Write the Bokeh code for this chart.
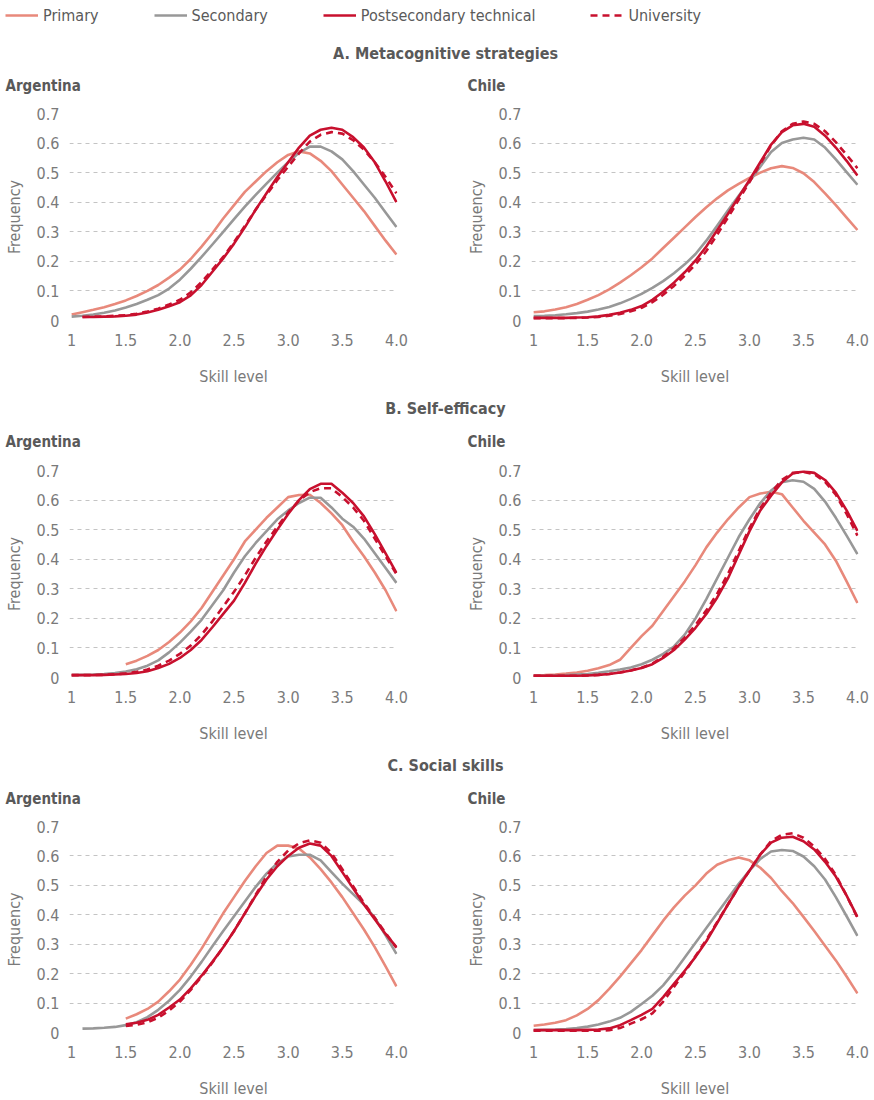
from bokeh.plotting import figure
from bokeh.layouts import column, row
from bokeh.models import Range1d, Legend, LegendItem, FixedTicker, Label
from bokeh.embed import file_html
from bokeh.resources import INLINE

# ---------------- data ----------------
skill_levels = [1.0, 1.1, 1.2, 1.3, 1.4, 1.5, 1.6, 1.7, 1.8, 1.9, 2.0, 2.1, 2.2, 2.3, 2.4, 2.5,
                2.6, 2.7, 2.8, 2.9, 3.0, 3.1, 3.2, 3.3, 3.4, 3.5, 3.6, 3.7, 3.8, 3.9, 4.0]

series_names = ["Primary", "Secondary", "Postsecondary technical", "University"]
section_titles = ["A. Metacognitive strategies", "B. Self-efficacy", "C. Social skills"]
countries = ["Argentina", "Chile"]
x_tick_values = [1, 1.5, 2, 2.5, 3, 3.5, 4]
x_tick_labels = ["1", "1.5", "2.0", "2.5", "3.0", "3.5", "4.0"]
y_tick_values = [0, 0.1, 0.2, 0.3, 0.4, 0.5, 0.6, 0.7]
y_tick_labels = ["0", "0.1", "0.2", "0.3", "0.4", "0.5", "0.6", "0.7"]

# A. Metacognitive strategies
meta_arg_primary = [0.020, 0.028, 0.036, 0.045, 0.056, 0.068, 0.083, 0.100, 0.120, 0.145, 0.172, 0.208, 0.250, 0.295, 0.345, 0.390,
                    0.435, 0.470, 0.505, 0.535, 0.560, 0.572, 0.565, 0.540, 0.505, 0.460, 0.415, 0.370, 0.320, 0.270, 0.223]
meta_arg_secondary = [0.013, 0.016, 0.020, 0.026, 0.034, 0.044, 0.056, 0.070, 0.086, 0.108, 0.138, 0.175, 0.215, 0.257, 0.300, 0.343,
                      0.385, 0.425, 0.463, 0.500, 0.535, 0.567, 0.588, 0.588, 0.572, 0.545, 0.505, 0.460, 0.415, 0.365, 0.316]
meta_arg_postsec = [0.012, 0.012, 0.013, 0.014, 0.016, 0.020, 0.027, 0.036, 0.048, 0.062, 0.085, 0.120, 0.165, 0.210, 0.260,
                    0.315, 0.375, 0.430, 0.485, 0.535, 0.585, 0.625, 0.645, 0.652, 0.645, 0.620, 0.585, 0.535, 0.470, 0.400]
meta_arg_univ = [0.012, 0.013, 0.014, 0.016, 0.018, 0.023, 0.030, 0.040, 0.054, 0.070, 0.095, 0.130, 0.172, 0.215, 0.265,
                 0.320, 0.375, 0.425, 0.475, 0.520, 0.565, 0.605, 0.628, 0.637, 0.632, 0.610, 0.578, 0.535, 0.485, 0.430]

meta_chl_primary = [0.028, 0.031, 0.037, 0.045, 0.056, 0.070, 0.086, 0.105, 0.128, 0.153, 0.180, 0.210, 0.245, 0.280, 0.315, 0.350,
                    0.383, 0.413, 0.440, 0.462, 0.482, 0.500, 0.515, 0.522, 0.516, 0.498, 0.468, 0.430, 0.390, 0.348, 0.306]
meta_chl_secondary = [0.015, 0.016, 0.018, 0.021, 0.025, 0.030, 0.037, 0.046, 0.058, 0.073, 0.090, 0.110, 0.133, 0.160, 0.190, 0.225,
                      0.270, 0.320, 0.372, 0.422, 0.470, 0.520, 0.570, 0.600, 0.612, 0.618, 0.612, 0.585, 0.545, 0.502, 0.459]
meta_chl_postsec = [0.009, 0.009, 0.009, 0.009, 0.010, 0.011, 0.014, 0.019, 0.026, 0.036, 0.049, 0.070, 0.097, 0.128, 0.163, 0.203,
                    0.250, 0.305, 0.360, 0.418, 0.475, 0.535, 0.595, 0.637, 0.660, 0.665, 0.655, 0.625, 0.585, 0.540, 0.490]
meta_chl_univ = [0.008, 0.008, 0.008, 0.008, 0.009, 0.010, 0.012, 0.016, 0.022, 0.031, 0.043, 0.062, 0.087, 0.117, 0.152, 0.190,
                 0.235, 0.290, 0.348, 0.408, 0.468, 0.530, 0.592, 0.640, 0.665, 0.673, 0.665, 0.640, 0.603, 0.560, 0.515]

# B. Self-efficacy
self_arg_primary = [0.045, 0.057, 0.073, 0.093, 0.120, 0.152, 0.190, 0.235, 0.290, 0.345, 0.400, 0.460, 0.500,
                    0.540, 0.575, 0.610, 0.617, 0.618, 0.590, 0.555, 0.515, 0.460, 0.410, 0.355, 0.295, 0.224]
self_arg_secondary = [0.008, 0.009, 0.010, 0.012, 0.015, 0.020, 0.028, 0.040, 0.058, 0.085, 0.118, 0.155, 0.195, 0.245, 0.295, 0.355,
                      0.410, 0.455, 0.495, 0.535, 0.565, 0.590, 0.608, 0.608, 0.575, 0.537, 0.510, 0.470, 0.420, 0.370, 0.320]
self_arg_postsec = [0.008, 0.008, 0.008, 0.009, 0.010, 0.012, 0.015, 0.021, 0.032, 0.046, 0.066, 0.093, 0.127, 0.170, 0.215, 0.260,
                    0.320, 0.385, 0.445, 0.500, 0.553, 0.600, 0.637, 0.655, 0.655, 0.625, 0.590, 0.545, 0.485, 0.420, 0.354]
self_arg_univ = [0.008, 0.008, 0.008, 0.009, 0.011, 0.014, 0.019, 0.027, 0.040, 0.057, 0.080, 0.108, 0.145, 0.190, 0.240, 0.290,
                 0.345, 0.405, 0.460, 0.510, 0.558, 0.598, 0.627, 0.640, 0.640, 0.610, 0.575, 0.530, 0.470, 0.410, 0.350]

self_chl_primary = [0.007, 0.008, 0.010, 0.013, 0.017, 0.023, 0.031, 0.042, 0.060, 0.100, 0.140, 0.175, 0.225, 0.275, 0.325, 0.380,
                    0.440, 0.490, 0.535, 0.575, 0.610, 0.622, 0.628, 0.620, 0.575, 0.530, 0.490, 0.450, 0.395, 0.325, 0.252]
self_chl_secondary = [0.006, 0.006, 0.007, 0.008, 0.010, 0.012, 0.016, 0.021, 0.027, 0.034, 0.045, 0.060, 0.080, 0.105, 0.145, 0.200,
                      0.265, 0.335, 0.405, 0.475, 0.535, 0.590, 0.632, 0.660, 0.667, 0.662, 0.638, 0.595, 0.540, 0.480, 0.417]
self_chl_postsec = [0.006, 0.006, 0.006, 0.006, 0.006, 0.007, 0.009, 0.012, 0.017, 0.024, 0.032, 0.045, 0.066, 0.093, 0.128, 0.168,
                    0.215, 0.270, 0.335, 0.415, 0.495, 0.565, 0.615, 0.660, 0.690, 0.697, 0.692, 0.668, 0.625, 0.565, 0.496]
self_chl_univ = [0.006, 0.006, 0.006, 0.006, 0.006, 0.007, 0.009, 0.012, 0.017, 0.024, 0.033, 0.047, 0.070, 0.099, 0.135, 0.178,
                 0.227, 0.283, 0.350, 0.428, 0.505, 0.573, 0.625, 0.668, 0.692, 0.695, 0.688, 0.662, 0.618, 0.553, 0.480]

# C. Social skills
social_arg_primary = [0.047, 0.062, 0.080, 0.105, 0.140, 0.180, 0.230, 0.285, 0.345, 0.405, 0.460, 0.515, 0.565,
                      0.610, 0.635, 0.635, 0.625, 0.595, 0.555, 0.510, 0.460, 0.405, 0.350, 0.290, 0.225, 0.157]
social_arg_secondary = [0.013, 0.014, 0.016, 0.019, 0.025, 0.035, 0.052, 0.077, 0.108, 0.145, 0.190, 0.240, 0.293, 0.345, 0.395,
                        0.445, 0.495, 0.540, 0.575, 0.598, 0.604, 0.604, 0.585, 0.545, 0.506, 0.470, 0.435, 0.390, 0.330, 0.267]
social_arg_postsec = [0.028, 0.033, 0.043, 0.060, 0.085, 0.112, 0.150, 0.193, 0.240, 0.290, 0.345, 0.405, 0.465,
                      0.520, 0.565, 0.600, 0.628, 0.642, 0.635, 0.600, 0.545, 0.490, 0.435, 0.385, 0.335, 0.290]
social_arg_univ = [0.022, 0.026, 0.035, 0.050, 0.075, 0.105, 0.145, 0.190, 0.238, 0.290, 0.345, 0.405, 0.468,
                   0.530, 0.580, 0.618, 0.643, 0.653, 0.645, 0.610, 0.555, 0.497, 0.440, 0.390, 0.338, 0.288]

social_chl_primary = [0.023, 0.027, 0.033, 0.042, 0.058, 0.080, 0.110, 0.148, 0.190, 0.235, 0.280, 0.330, 0.380, 0.425, 0.465, 0.500,
                      0.540, 0.570, 0.585, 0.595, 0.585, 0.560, 0.525, 0.480, 0.440, 0.393, 0.345, 0.295, 0.245, 0.190, 0.133]
social_chl_secondary = [0.008, 0.009, 0.010, 0.012, 0.015, 0.020, 0.027, 0.037, 0.050, 0.070, 0.097, 0.125, 0.160, 0.205, 0.255, 0.305,
                        0.355, 0.405, 0.455, 0.505, 0.550, 0.590, 0.615, 0.620, 0.617, 0.598, 0.565, 0.520, 0.460, 0.395, 0.328]
social_chl_postsec = [0.008, 0.008, 0.008, 0.008, 0.008, 0.009, 0.010, 0.014, 0.025, 0.042, 0.060, 0.080, 0.120, 0.165, 0.210, 0.257,
                      0.310, 0.372, 0.435, 0.495, 0.550, 0.605, 0.645, 0.662, 0.665, 0.650, 0.622, 0.580, 0.530, 0.465, 0.393]
social_chl_univ = [0.006, 0.006, 0.006, 0.006, 0.006, 0.006, 0.006, 0.008, 0.015, 0.030, 0.045, 0.065, 0.105, 0.155, 0.205, 0.260,
                   0.315, 0.375, 0.435, 0.495, 0.550, 0.605, 0.650, 0.672, 0.677, 0.662, 0.632, 0.590, 0.535, 0.465, 0.390]

# ---------------- style ----------------
FONT = "Liberation Sans Narrow, DejaVu Sans Condensed, Roboto Condensed, Roboto, sans-serif"
COLORS = ["#E8897B", "#989898", "#C8102E", "#C8102E"]
DASHES = ["solid", "solid", "solid", "7 5"]
TITLE_COLOR = "#595959"
TICK_COLOR = "#7a7a7a"
LW = 2.6
PAGE_W = 874


def panel(data, left, height, border_bottom):
    p = figure(width=437, height=height, output_backend="svg", toolbar_location=None,
               x_range=Range1d(0.98, 4.01), y_range=Range1d(0, 0.7),
               min_border_left=69 if left else 94, min_border_right=40 if left else 16,
               min_border_top=18, min_border_bottom=border_bottom)
    p.outline_line_color = None
    p.xgrid.visible = False
    p.ygrid.grid_line_color = "#c4c4c4"
    p.ygrid.grid_line_dash = "4 4"
    p.ygrid.grid_line_width = 1
    for ax in (p.xaxis[0], p.yaxis[0]):
        ax.axis_line_color = None
        ax.major_tick_line_color = None
        ax.minor_tick_line_color = None
        ax.major_label_text_font = FONT
        ax.major_label_text_font_size = "16px"
        ax.major_label_text_color = TICK_COLOR
        ax.axis_label_text_font = FONT
        ax.axis_label_text_font_size = "16px"
        ax.axis_label_text_font_style = "normal"
        ax.axis_label_text_color = TICK_COLOR
    p.xaxis.ticker = FixedTicker(ticks=x_tick_values)
    p.xaxis.major_label_overrides = dict(zip(x_tick_values, x_tick_labels))
    p.yaxis.ticker = FixedTicker(ticks=y_tick_values)
    p.yaxis.major_label_overrides = dict(zip(y_tick_values, y_tick_labels))
    p.xaxis.axis_label = "Skill level"
    p.yaxis.axis_label = "Frequency"
    p.xaxis.major_label_standoff = 7
    p.xaxis.axis_label_standoff = 18
    p.yaxis.major_label_standoff = 4
    p.yaxis.axis_label_standoff = 10
    for (ys, color, dash) in zip(data, COLORS, DASHES):
        xs = skill_levels[len(skill_levels) - len(ys):]
        p.line(xs, ys, line_color=color, line_width=LW, line_dash=dash, line_join="round")
    return p


def header(text, height, title_from_top, country_from_top):
    # a full-width strip holding the section title and the two country names;
    # its ranges are in pixels so the labels are placed by layout offsets
    s = figure(width=PAGE_W, height=height, output_backend="svg", toolbar_location=None,
               x_range=Range1d(0, PAGE_W), y_range=Range1d(0, height),
               min_border=0, min_border_left=0, min_border_right=0, min_border_top=0, min_border_bottom=0,
               x_axis_location=None, y_axis_location=None)
    s.outline_line_color = None
    s.grid.visible = False
    s.add_layout(Label(x=445, y=height - title_from_top, text=text, text_font=FONT, text_font_size="16px",
                       text_font_style="bold", text_color=TITLE_COLOR, text_align="center",
                       text_baseline="middle"))
    for cx, name in zip([5, 467], countries):
        s.add_layout(Label(x=cx, y=height - country_from_top, text=name, text_font=FONT, text_font_size="15px",
                           text_font_style="bold", text_color=TITLE_COLOR, text_align="left",
                           text_baseline="middle"))
    return s


# legend figure (renderers share real data, but its ranges keep them out of view)
lg = figure(width=PAGE_W, height=40, output_backend="svg", toolbar_location=None,
            x_range=Range1d(10, 11), y_range=Range1d(10, 11),
            min_border=0, min_border_left=0, min_border_right=0, min_border_top=0, min_border_bottom=0,
            x_axis_location=None, y_axis_location=None)
lg.outline_line_color = None
lg.grid.visible = False
items = []
legend_data = [meta_arg_primary, meta_arg_secondary, meta_arg_postsec, meta_arg_univ]
for name, ys, color, dash in zip(series_names, legend_data, COLORS, DASHES):
    xs = skill_levels[len(skill_levels) - len(ys):]
    r = lg.line(xs, ys, line_color=color, line_width=LW, line_dash=dash)
    items.append(LegendItem(label=name, renderers=[r]))
legend = Legend(items=items, orientation="horizontal", location="top_left",
                glyph_width=33, glyph_height=20, label_standoff=5, spacing=55,
                padding=0, margin=5, border_line_color=None, background_fill_alpha=0,
                label_text_font=FONT, label_text_font_size="16px", label_text_color="#5a5a5a")
lg.add_layout(legend)

meta = [[meta_arg_primary, meta_arg_secondary, meta_arg_postsec, meta_arg_univ],
        [meta_chl_primary, meta_chl_secondary, meta_chl_postsec, meta_chl_univ]]
selfe = [[self_arg_primary, self_arg_secondary, self_arg_postsec, self_arg_univ],
         [self_chl_primary, self_chl_secondary, self_chl_postsec, self_chl_univ]]
social = [[social_arg_primary, social_arg_secondary, social_arg_postsec, social_arg_univ],
          [social_chl_primary, social_chl_secondary, social_chl_postsec, social_chl_univ]]

rows = [lg]
# (header height, section-title offset, country offset) and (panel height, bottom border)
header_dims = [(55, 13, 45), (57, 13, 46), (56, 13, 46)]
panel_dims = [(300, 75), (300, 75), (292, 67)]
for title, block, (hh, tt, ct), (ph, pb) in zip(section_titles, [meta, selfe, social], header_dims, panel_dims):
    rows.append(header(title, hh, tt, ct))
    rows.append(row(panel(block[0], True, ph, pb), panel(block[1], False, ph, pb)))

layout = column(*rows)
open("out.html", "w").write(file_html(layout, INLINE))
